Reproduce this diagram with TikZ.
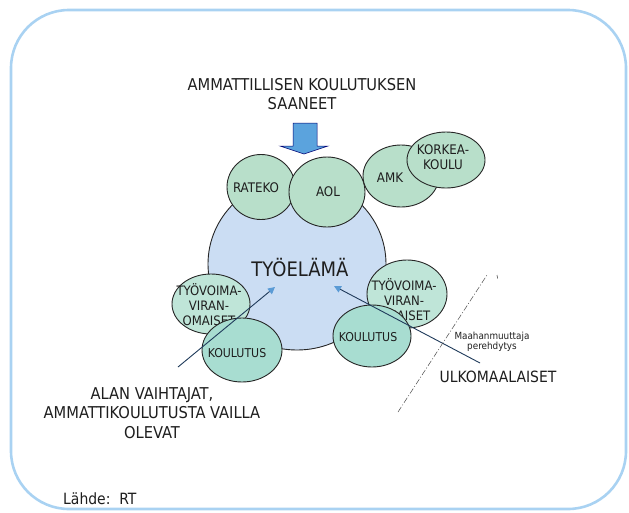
\documentclass[tikz,border=0pt]{standalone}
\usepackage{fontspec}
\setmainfont{DejaVu Sans Condensed}
\usetikzlibrary{shapes.geometric,arrows.meta}
\definecolor{frameC}{HTML}{A9D2F2}
\definecolor{circC}{HTML}{CBDDF3}
\definecolor{grnC}{HTML}{B8DFCA}
\definecolor{tyoC}{HTML}{BFE5D8}
\definecolor{kouC}{HTML}{A8DDD1}
\definecolor{tipC}{HTML}{5B9BD5}
\definecolor{navyC}{HTML}{1F3A5A}
\definecolor{blockC}{HTML}{5BA3DD}
\definecolor{txtC}{HTML}{1E1E1E}
\begin{document}
\begin{tikzpicture}[x=1pt,y=-1pt,
  txt/.style={inner sep=0, align=center, text=txtC},
  lbl/.style={txt, font=\fontsize{13.2}{15}\selectfont},
  tlbl/.style={txt, font=\fontsize{13}{15}\selectfont},
  klbl/.style={txt, font=\fontsize{12.2}{14}\selectfont},
  ell/.style={ellipse, draw=black!85, line width=0.9pt, inner sep=0},
  grn/.style={ell, fill=grnC},
  tyo/.style={ell, fill=tyoC},
  kou/.style={ell, fill=kouC},
  arr/.style={draw=navyC, line width=0.9pt, -{Triangle[length=7pt,width=7pt,color=tipC]}},
  big/.style={txt, font=\fontsize{16.3}{19.5}\selectfont}
]
\useasboundingbox (0,0) rectangle (629,512);
\draw[frameC, line width=2.6pt, rounded corners=58pt] (11,10) rectangle (626,509);

% title
\node[big] (title) at (302,94) {AMMATTILLISEN KOULUTUKSEN\\SAANEET};
% block arrow
\draw[fill=blockC, draw=blue!45!black, line width=0.5pt]
  (293,123) -- (317,123) -- (317,146) -- (328,146) -- (304,154) -- (280,146) -- (293,146) -- cycle;

% main circle
\node[ellipse, draw=black!85, line width=0.9pt, fill=circC, minimum width=178pt, minimum height=172pt, inner sep=0] (tyo) at (297,264) {};
\node[txt, font=\fontsize{20}{22}\selectfont] (tyoT) at (300,268) {TYÖELÄMÄ};

% top ellipses
\node[grn, minimum width=68pt, minimum height=65pt] (rateko) at (261,187) {};
\node[lbl] (ratekoT) at (256,188) {RATEKO};
\node[grn, minimum width=76pt, minimum height=70pt] (aol) at (327,192) {};
\node[lbl] (aolT) at (328,192) {AOL};
\node[grn, minimum width=76pt, minimum height=62pt] (amk) at (401,176) {};
\node[lbl] (amkT) at (390,178) {AMK};
\node[grn, minimum width=78pt, minimum height=56pt] (korkea) at (446,160) {};
\node[lbl] (korkeaT) at (443,157) {KORKEA-\\KOULU};

% left group
\node[tyo, minimum width=78pt, minimum height=60pt] (tyoL) at (211,304) {};
\node[tlbl] (tyoLT) at (209,305) {TYÖVOIMA-\\VIRAN-\\OMAISET};
\node[kou, minimum width=80pt, minimum height=64pt] (kouL) at (242,350) {};
\node[klbl] (kouLT) at (237,353) {KOULUTUS};

% right group
\node[tyo, minimum width=80pt, minimum height=68pt] (tyoR) at (407,294) {};
\node[tlbl] (tyoRT) at (404,300) {TYÖVOIMA-\\VIRAN-\\OMAISET};
\node[kou, minimum width=78pt, minimum height=62pt] (kouR) at (372,336) {};
\node[klbl] (kouRT) at (368,337) {KOULUTUS};

% arrows
\coordinate (sL) at (178,367);
\coordinate (tL) at (275,287);
\coordinate (sR) at (480,363);
\coordinate (tR) at (334,286);
\draw[arr] (sL) -- (tL);
\draw[arr] (sR) -- (tR);

% dashed boundary
\coordinate (d1) at (398,412);
\coordinate (d2) at (487,275);
\draw[black!70, line width=0.5pt, dash pattern=on 6pt off 2pt on 1pt off 2pt] (d1) -- (d2);
\draw[black!70, line width=0.6pt] (497,275) -- (497.6,278.5);

% other labels
\node[txt, font=\fontsize{9.8}{8.8}\selectfont] (maa) at (492,342) {Maahanmuuttaja\\perehdytys};
\node[txt, font=\fontsize{15.5}{19.5}\selectfont] (ulko) at (498,377) {ULKOMAALAISET};
\node[big] (alan) at (152,413) {ALAN VAIHTAJAT,\\AMMATTIKOULUTUSTA VAILLA\\OLEVAT};
\node[txt, font=\fontsize{15.5}{17}\selectfont, anchor=west] (lahde) at (63,499) {Lähde:\ \ RT};
\end{tikzpicture}
\end{document}
